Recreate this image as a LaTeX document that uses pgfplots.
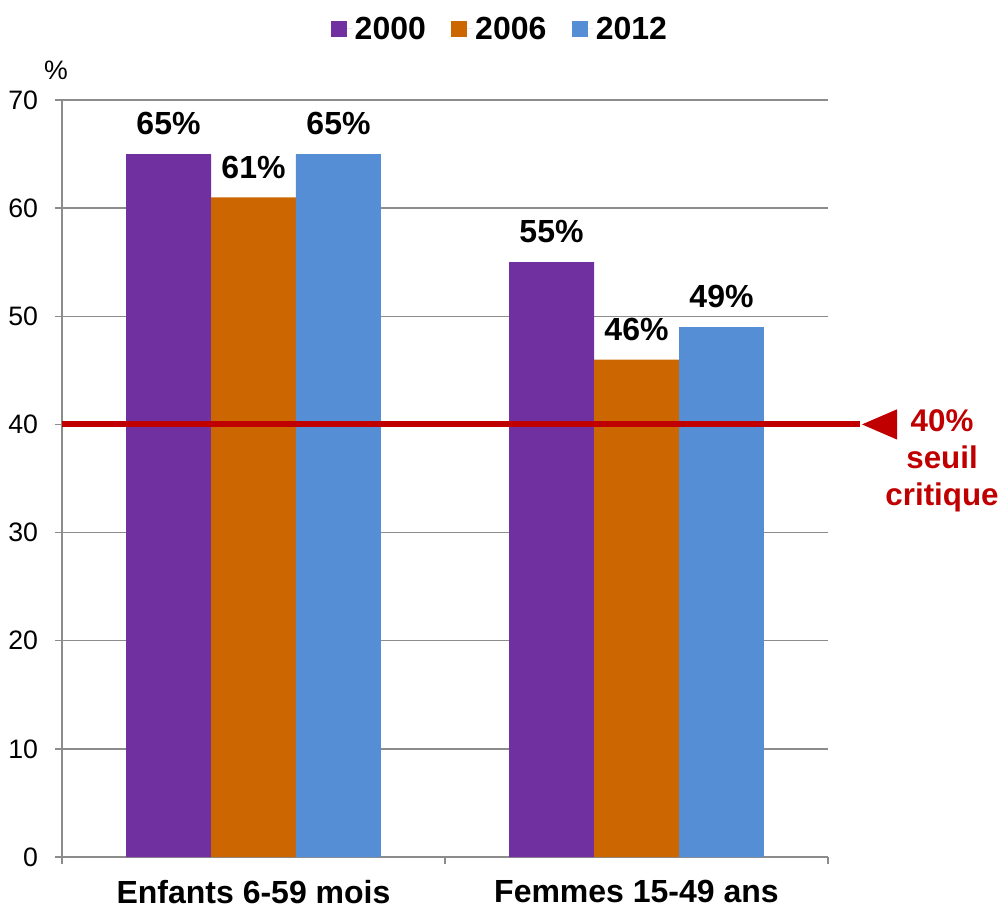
\documentclass[border=0pt]{standalone}
\usepackage{pgfplots}
\pgfplotsset{compat=1.18}
\usepackage{fontspec}
\setmainfont{Liberation Sans}
\definecolor{cA}{HTML}{7030A0}
\definecolor{cB}{HTML}{CC6600}
\definecolor{cC}{HTML}{558ED5}
\definecolor{cR}{HTML}{C00000}
\definecolor{gridc}{HTML}{8C8C8C}
\begin{document}
\begin{tikzpicture}
\useasboundingbox (-46.5pt,-39pt) rectangle (707.25pt,642.75pt);
\begin{axis}[
  width=574.5pt, height=567.75pt, scale only axis,
  xmin=0, xmax=2, ymin=0, ymax=70,
  ybar, bar width=0.2219,
  clip=false,
  axis x line*=bottom, axis y line*=left,
  axis line style={gridc, line width=1.1pt},
  every tick/.style={gridc, line width=1.1pt},
  tick align=outside, major tick length=5.5pt,
  ytick={0,10,...,70},
  ymajorgrids, grid style={gridc, line width=1.1pt},
  xtick={0,1,2}, xticklabels={},
  extra x ticks={0.5,1.5},
  extra x tick labels={Enfants 6-59 mois, Femmes 15-49 ans},
  extra x tick style={major tick length=0pt, grid=none,
    tick label style={font=\bfseries\fontsize{24}{28}\selectfont, yshift=-14pt}},
  /pgf/number format/assume math mode=true,
  yticklabel style={font=\fontsize{20}{24}\selectfont, xshift=-9pt},
  nodes near coords={\pgfmathprintnumber{\pgfplotspointmeta}\%},
  every node near coord/.append style={font=\bfseries\fontsize{24}{28}\selectfont, anchor=south, inner sep=0pt, yshift=14pt, black},
  legend style={draw=none, at={(0.572,1.094)}, anchor=center, legend columns=3,
    font=\bfseries\fontsize{24}{28}\selectfont,
    /tikz/every even column/.append style={column sep=17pt},
    inner sep=0pt},
  legend image code/.code={\fill[#1] (0pt,-6pt) rectangle (12pt,6pt); \path (12pt,0pt) -- (16pt,0pt);},
]
\addplot[fill=cA, draw=none, bar shift=-0.2219] coordinates {(0.5,65) (1.5,55)};
\addplot[fill=cB, draw=none, bar shift=0] coordinates {(0.5,61) (1.5,46)};
\addplot[fill=cC, draw=none, bar shift=0.2219] coordinates {(0.5,65) (1.5,49)};
\legend{2000,2006,2012}
\draw[cR, line width=4.5pt] (axis cs:0,40) -- (axis cs:2.0836,40);
\fill[cR] (axis cs:2.0888,40) -- (axis cs:2.1802,41.4) -- (axis cs:2.1802,38.6) -- cycle;
\node[cR, font=\bfseries\fontsize{23.5}{27.75}\selectfont, align=center, anchor=center] at (axis cs:2.2977,36.6) {40\%\\seuil\\critique};
\node[font=\fontsize{20}{24}\selectfont] at (rel axis cs:-0.008,1.0396) {\%};
\end{axis}
\end{tikzpicture}
\end{document}
